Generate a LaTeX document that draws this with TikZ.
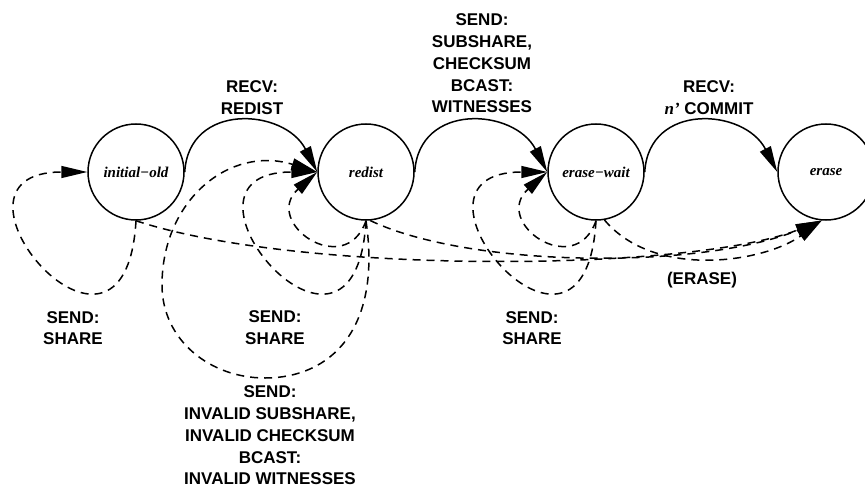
\documentclass[tikz,border=0pt]{standalone}
\usepackage{fontspec}
\setmainfont{Liberation Sans}
\newfontfamily\seriffam{Liberation Serif}
\usetikzlibrary{arrows.meta}
\begin{document}
\begin{tikzpicture}[x=1pt,y=-1pt,
  state/.style={circle,draw,line width=1.5pt,minimum size=96pt,inner sep=0pt,
    font=\fontsize{15}{18}\selectfont\seriffam\bfseries\itshape},
  trans/.style={line width=1.5pt,-{Triangle[length=26pt,width=12pt]}},
  dsh/.style={trans,dash pattern=on 8pt off 6pt},
  lbl/.style={font=\fontsize{17}{21.7}\selectfont\bfseries,align=center,inner sep=0pt}]
\useasboundingbox (0,0) rectangle (865,487);

\node[state] (io) at (136,172) {initial−old};
\node[state] (rd) at (366,172) {redist};
\node[state] (ew) at (596,172) {erase−wait};
\node[state] (er) at (826,172) {erase};

% solid transitions
\draw[trans] (io.east) .. controls +(4,-70) and +(-33,-64) .. (rd.west);
\draw[trans] (rd.east) .. controls +(4,-70) and +(-33,-64) .. (ew.west);
\draw[trans] (ew.east) .. controls +(4,-70) and +(-33,-64) .. (er.west);

% medium self loops (SEND: SHARE)
\draw[dsh] (io.south) .. controls +(-11,190) and +(-165,0) .. (io.west);
\draw[dsh] (rd.south) .. controls +(-11,190) and +(-165,0) .. (rd.west);
\draw[dsh] (ew.south) .. controls +(-11,190) and +(-165,0) .. (ew.west);

% small self loops
\draw[dsh] (rd.south) .. controls +(-21,60) and +(-56,50) .. (rd.west);
\draw[dsh] (ew.south) .. controls +(-21,60) and +(-56,50) .. (ew.west);

% big self loop on redist
\draw[dsh] (rd.south) .. controls (382,330) and (330,378) .. (265,378)
  .. controls (210,378) and (162,340) .. (162,285)
  .. controls (162,200) and (230,145) .. (rd.west);

% erase transitions
\draw[dsh] (io.south) .. controls (300,275) and (690,272) .. (er.-95);
\draw[dsh] (rd.-85) .. controls (470,268) and (700,270) .. (er.-95);
\draw[dsh] (ew.-80) .. controls (655,280) and (765,262) .. (er.-95);

% labels
\node[lbl] (l1) at (252,97.5) {RECV:\\REDIST};
\node[lbl] (l2) at (482,63.5) {SEND:\\SUBSHARE,\\CHECKSUM\\BCAST:\\WITNESSES};
\node[lbl] (l3) at (709,97.5) {RECV:\\{\seriffam\itshape n’} COMMIT};
\node[lbl] (l4) at (73,328) {SEND:\\SHARE};
\node[lbl] (l5) at (275,327.5) {SEND:\\SHARE};
\node[lbl] (l6) at (532,328) {SEND:\\SHARE};
\node[lbl] (l7) at (270,435.5) {SEND:\\INVALID SUBSHARE,\\INVALID CHECKSUM\\BCAST:\\INVALID WITNESSES};
\node[lbl,anchor=base] (l8) at (702,284) {(ERASE)};
\end{tikzpicture}
\end{document}
